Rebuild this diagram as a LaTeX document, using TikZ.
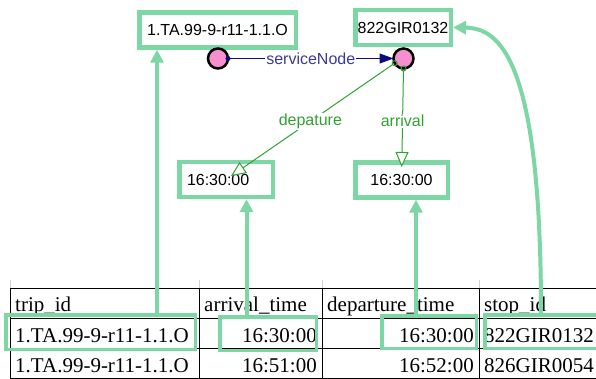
\documentclass[tikz,border=0pt]{standalone}
\usepackage{fontspec}
\setmainfont{Liberation Serif}
\setsansfont{Liberation Sans}
\usetikzlibrary{arrows.meta}

\definecolor{mint}{RGB}{125,215,165}
\definecolor{rdfpink}{RGB}{246,143,206}
\definecolor{navy}{RGB}{10,10,130}
\definecolor{propgreen}{RGB}{50,160,50}

\newcommand{\lblfont}{\sffamily\fontsize{16}{19}\selectfont}
\newcommand{\cellfont}{\rmfamily\fontsize{21}{25}\selectfont}

\begin{document}
\begin{tikzpicture}[x=1pt,y=-1pt,
  val/.style={draw=mint,line width=4.5pt,fill=white,font=\lblfont,minimum height=35pt,inner sep=0pt},
  res/.style={circle,draw,line width=2.5pt,fill=rdfpink,minimum size=20pt,inner sep=0pt,outer sep=0pt},
  hl/.style={draw=mint,line width=3.5pt,inner sep=0pt},
  cell/.style={font=\cellfont,inner sep=0pt},
  link/.style={mint,line width=4pt,-{Triangle[length=13pt,width=13pt]}},
  prop/.style={propgreen,line width=1pt,shorten <=-3pt,{Circle[open,length=6pt]}-{Triangle[open,fill=white,length=15pt,width=13pt]}},
  plbl/.style={fill=white,text=propgreen,font=\lblfont,inner sep=1pt}]
\useasboundingbox (0,0) rectangle (596,379);

% the csv rows
\draw[gray!35,line width=0.8pt] (10,280) -- (10,288) (199,280) -- (199,288) (322,280) -- (322,288) (479,280) -- (479,288);
\draw[line width=1pt] (10,288) -- (600,288) (10,318) -- (600,318) (10,348) -- (600,348) (10,378) -- (600,378);
\draw[line width=1pt] (10,288) -- (10,378) (199,288) -- (199,378) (322,288) -- (322,378) (479,288) -- (479,378);

\node[cell,anchor=base west] (hTrip) at (15,311) {trip\_id};
\node[cell,anchor=base west] (hArr) at (204,311) {arrival\_time};
\node[cell,anchor=base west] (hDep) at (327,311) {departure\_time};
\node[cell,anchor=base west] (hStop) at (484,311) {stop\_id};

\node[cell,anchor=base west] (aTrip) at (15,342) {1.TA.99-9-r11-1.1.O};
\node[cell,anchor=base east] (aArr) at (317,342) {16:30:00};
\node[cell,anchor=base east] (aDep) at (474,342) {16:30:00};
\node[cell,anchor=base west] (aStop) at (484,342) {822GIR0132};

\node[cell,anchor=base west] (bTrip) at (15,372) {1.TA.99-9-r11-1.1.O};
\node[cell,anchor=base east] (bArr) at (317,372) {16:51:00};
\node[cell,anchor=base east] (bDep) at (474,372) {16:52:00};
\node[cell,anchor=base west] (bStop) at (484,372) {826GIR0054};

% highlighted cells
\node[hl,minimum width=189.5pt,minimum height=34.5pt] (hlTrip) at (100.5,332) {};
\node[hl,minimum width=96.5pt,minimum height=33.5pt] (hlArr) at (268,333.5) {};
\node[hl,minimum width=94.5pt,minimum height=32.5pt] (hlDep) at (429,332) {};
\node[hl,minimum width=126.5pt,minimum height=33.5pt] (hlStop) at (548,331.5) {};

% graph values
\node[val,minimum width=156.5pt] (trip) at (217.5,30) {1.TA.99-9-r11-1.1.O};
\node[val,minimum width=95.5pt] (stop) at (403,27.5) {822GIR0132};
\node[val,minimum width=93.5pt,text width=78pt,align=left] (depTime) at (226,179.5) {16:30:00};
\node[val,minimum width=92.5pt] (arrTime) at (401.5,180) {16:30:00};

\node[res] (c1) at (218,58.5) {};
\node[res] (c2) at (403.5,58.5) {};

\draw[navy,line width=1pt,shorten <=-2.5pt,{Circle[length=5pt]}-{Triangle[length=14pt,width=10pt]}] (c1.east) -- node[fill=white,text=navy!80!white,font=\lblfont,inner sep=1pt]{serviceNode} (c2.west);
\draw[prop,shorten >=6pt] (c2.208) -- node[plbl]{depature} (depTime.center);
\draw[prop,shorten >=13pt] (c2.270) -- node[plbl,pos=0.47]{arrival} (arrTime.center);

% cells to values
\draw[link] (hlTrip.north -| 157,0) -- (trip.south -| 157,0);
\draw[link] (hlArr.north -| 246.5,0) -- (depTime.south -| 246.5,0);
\draw[link] (hlDep.north -| 416,0) -- (arrTime.south -| 416,0);
\draw[link] (hlStop.north -| 541,0) .. controls (541,60) and (500,28) .. (stop.east);
\end{tikzpicture}
\end{document}
